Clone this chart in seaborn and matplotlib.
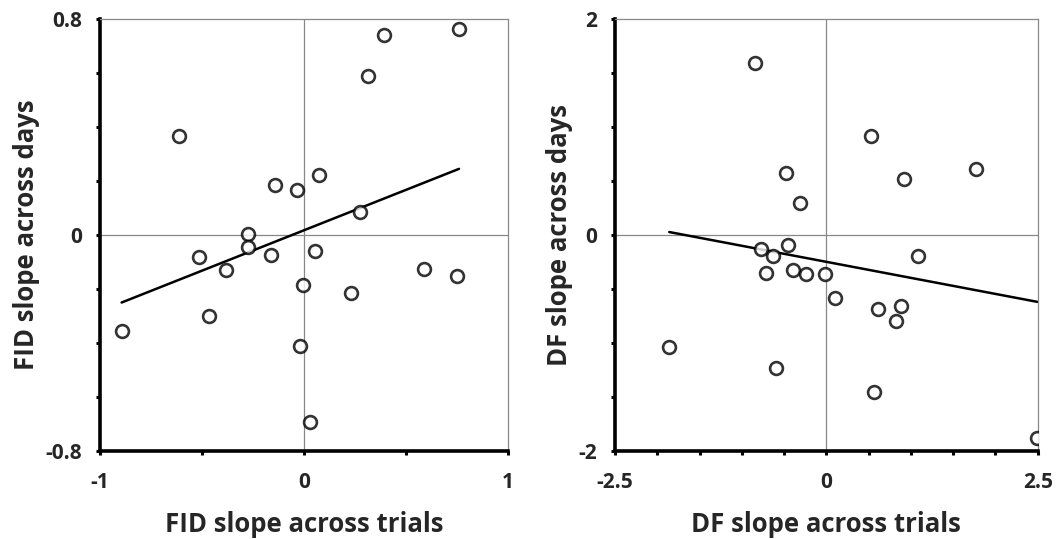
import matplotlib
matplotlib.use("Agg")
import matplotlib.pyplot as plt
import numpy as np
import pandas as pd
import seaborn as sns

# FID panel: slope across trials vs slope across days
fid_trials = [0.76, 0.392, 0.312, -0.613, 0.074, -0.142, -0.034, 0.275, -0.273, -0.273, -0.515,
              -0.162, 0.055, -0.384, 0.590, 0.752, -0.005, 0.232, -0.466, -0.894, -0.018, 0.031]
fid_days = [0.762, 0.741, 0.590, 0.365, 0.222, 0.184, 0.167, 0.085, 0.003, -0.046, -0.080,
            -0.075, -0.059, -0.130, -0.126, -0.152, -0.186, -0.214, -0.301, -0.356, -0.412, -0.691]

# DF panel
df_trials = [-0.840, 0.533, 1.775, 0.920, -0.477, -0.311, -0.457, -0.773, -0.627, 1.089, -0.714,
             -0.398, -0.240, -0.015, 0.107, 0.615, 0.884, 0.828, -1.858, -0.592, 0.561, 2.497]
df_days = [1.589, 0.917, 0.611, 0.515, 0.574, 0.299, -0.093, -0.130, -0.198, -0.198, -0.352,
           -0.324, -0.365, -0.365, -0.587, -0.682, -0.655, -0.794, -1.041, -1.232, -1.454, -1.877]

sns.set_style("white")
plt.rcParams['font.family'] = ['Open Sans', 'DejaVu Sans']

fig = plt.figure(figsize=(10.58, 5.39), dpi=100)
ax1 = fig.add_axes([0.0945, 0.1633, 0.3856, 0.8015])
ax2 = fig.add_axes([0.5813, 0.1633, 0.3995, 0.8015])

panels = [
    (ax1, fid_trials, fid_days, "FID slope across trials", "FID slope across days",
     (-1, 1), (-0.8, 0.8), 0.5, 0.2, ["-1", "0", "1"], ["-0.8", "0", "0.8"]),
    (ax2, df_trials, df_days, "DF slope across trials", "DF slope across days",
     (-2.5, 2.5), (-2, 2), 0.5, 0.5, ["-2.5", "0", "2.5"], ["-2", "0", "2"]),
]

for ax, xs, ys, xl, yl, xlim, ylim, xstep, ystep, xlabs, ylabs in panels:
    d = pd.DataFrame({"x": xs, "y": ys})
    ax.axhline(0, color="#888888", lw=0.9, zorder=0)
    ax.axvline(0, color="#888888", lw=0.9, zorder=0)
    sns.regplot(data=d, x="x", y="y", ax=ax, ci=None, truncate=True,
                scatter_kws=dict(s=85, facecolors="white", edgecolors="black", linewidths=1.9, zorder=3),
                line_kws=dict(color="black", lw=1.8, zorder=2))
    ax.set_xlim(*xlim)
    ax.set_ylim(*ylim)
    xt = np.arange(xlim[0], xlim[1] + 1e-9, xstep)
    yt = np.arange(ylim[0], ylim[1] + 1e-9, ystep)
    ax.set_xticks(xt)
    ax.set_yticks(yt)
    ax.set_xticklabels([xlabs[0] if np.isclose(v, xlim[0]) else xlabs[1] if np.isclose(v, 0)
                        else xlabs[2] if np.isclose(v, xlim[1]) else "" for v in xt])
    ax.set_yticklabels([ylabs[0] if np.isclose(v, ylim[0]) else ylabs[1] if np.isclose(v, 0)
                        else ylabs[2] if np.isclose(v, ylim[1]) else "" for v in yt])
    ax.tick_params(bottom=True, left=True, direction="out", length=3, width=2.2,
                   color="black", labelsize=15)
    ax.tick_params(axis="x", pad=12)
    ax.tick_params(axis="y", pad=10)
    for lab in ax.get_xticklabels() + ax.get_yticklabels():
        lab.set_fontweight("bold")
    for s in ["top", "right"]:
        ax.spines[s].set_color("#888888")
        ax.spines[s].set_linewidth(0.9)
    for s in ["left", "bottom"]:
        ax.spines[s].set_color("black")
        ax.spines[s].set_linewidth(2.6)
    ax.set_xlabel(xl, fontsize=18.5, fontweight="bold", labelpad=13)
    ax.set_ylabel(yl, fontsize=18.5, fontweight="bold", labelpad=4)

plt.savefig("out.png", dpi=100)
plt.close()
